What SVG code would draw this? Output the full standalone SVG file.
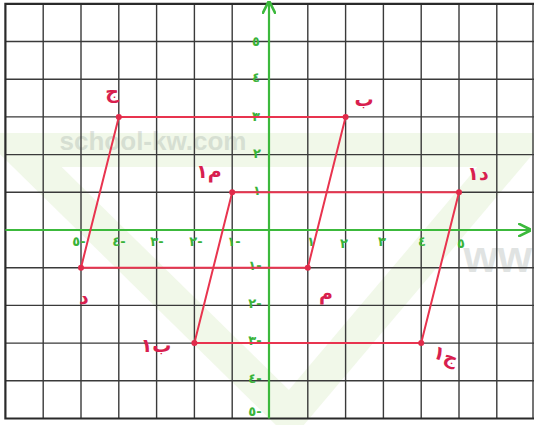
<svg xmlns="http://www.w3.org/2000/svg" width="534" height="425" viewBox="0 0 534 425">
<style>
.grid{stroke:#3a3a3a;stroke-width:1.4;fill:none}
.border{stroke:#2a2a2a;stroke-width:2.2;fill:none}
.axis{stroke:#3cb93c;stroke-width:2.2;fill:none}
.tick{font-family:"DejaVu Sans","Noto Sans",sans-serif;font-size:13px;fill:#39b339;font-weight:bold;text-anchor:middle}
.shape{stroke:#e8344f;stroke-width:2;fill:none;stroke-linejoin:round}
.pt{fill:#e02a4a}
.lbl{font-family:"DejaVu Sans","Noto Sans",sans-serif;font-size:19px;fill:#d81f4f;font-weight:bold;text-anchor:middle}
.wm{font-family:"Liberation Sans",Arial,sans-serif;font-weight:bold;fill:#9aa6a0;opacity:0.3}
</style>
<defs>
<marker id="arr" viewBox="0 0 10 10" refX="9" refY="5" markerWidth="6" markerHeight="6" orient="auto">
<path d="M0,0 L10,5 L0,10" fill="none" stroke="#3cb93c" stroke-width="2"/>
</marker>
</defs>
<rect width="534" height="425" fill="#ffffff"/>
<g id="watermark">
<polygon points="20,150 514,150 290,415" fill="none" stroke="#e3f2d4" stroke-width="34" opacity="0.5"/>
<text class="wm" x="153" y="150" font-size="26" text-anchor="middle">school-kw.com</text>
<text class="wm" x="532" y="272" font-size="44" text-anchor="end" fill="#888">ww</text>
</g>
<g id="grid">
<path class="grid" d="M43.2,3.8V418.5M81,3.8V418.5M118.8,3.8V418.5M156.6,3.8V418.5M194.4,3.8V418.5M232.2,3.8V418.5M307.8,3.8V418.5M345.6,3.8V418.5M383.4,3.8V418.5M421.2,3.8V418.5M459,3.8V418.5M496.8,3.8V418.5M533,3.8V418.5"/>
<path class="grid" d="M5.4,41.5H534M5.4,79.2H534M5.4,116.9H534M5.4,154.6H534M5.4,192.3H534M5.4,267.7H534M5.4,305.4H534M5.4,343.1H534M5.4,380.8H534"/>
<path class="border" d="M534,3.8H5.4V418.5H534"/>
</g>
<g id="axes">
<line class="axis" x1="5.4" y1="230" x2="530" y2="230" marker-end="url(#arr)"/>
<line class="axis" x1="269" y1="418.5" x2="269" y2="2" marker-end="url(#arr)"/>
</g>
<g id="x-ticks">
<text class="tick" x="79" y="246">٥-</text>
<text class="tick" x="119" y="246">٤-</text>
<text class="tick" x="157" y="246">٣-</text>
<text class="tick" x="196" y="246">٢-</text>
<text class="tick" x="234" y="246">١-</text>
<text class="tick" x="311" y="246">١</text>
<text class="tick" x="344" y="248">٢</text>
<text class="tick" x="382" y="246">٣</text>
<text class="tick" x="422" y="246">٤</text>
<text class="tick" x="461" y="248">٥</text>
</g>
<g id="y-ticks">
<text class="tick" x="256" y="46">٥</text>
<text class="tick" x="256" y="82">٤</text>
<text class="tick" x="256" y="121">٣</text>
<text class="tick" x="257" y="158">٢</text>
<text class="tick" x="257" y="195">١</text>
<text class="tick" x="255" y="270">١-</text>
<text class="tick" x="255" y="308">٢-</text>
<text class="tick" x="255" y="345">٣-</text>
<text class="tick" x="255" y="383">٤-</text>
<text class="tick" x="255" y="416">٥-</text>
</g>
<g id="parallelogram-1">
<polygon class="shape" points="118.8,116.9 345.6,116.9 307.8,267.7 81,267.7"/>
<circle class="pt" cx="118.8" cy="116.9" r="3"/>
<circle class="pt" cx="345.6" cy="116.9" r="3"/>
<circle class="pt" cx="307.8" cy="267.7" r="3"/>
<circle class="pt" cx="81" cy="267.7" r="3"/>
<text class="lbl" x="112" y="98">ج</text>
<text class="lbl" x="364" y="106">ب</text>
<text class="lbl" x="326" y="300">م</text>
<text class="lbl" x="84" y="304">د</text>
</g>
<g id="parallelogram-2">
<polygon class="shape" points="232.2,192.3 459,192.3 421.2,343.1 194.4,343.1"/>
<circle class="pt" cx="232.2" cy="192.3" r="3"/>
<circle class="pt" cx="459" cy="192.3" r="3"/>
<circle class="pt" cx="421.2" cy="343.1" r="3"/>
<circle class="pt" cx="194.4" cy="343.1" r="3"/>
<text class="lbl" x="209" y="178">م١</text>
<text class="lbl" x="478" y="180">د١</text>
<text class="lbl" x="446" y="362" transform="rotate(20 446 355)">ج١</text>
<text class="lbl" x="156" y="352">ب١</text>
</g>
</svg>
